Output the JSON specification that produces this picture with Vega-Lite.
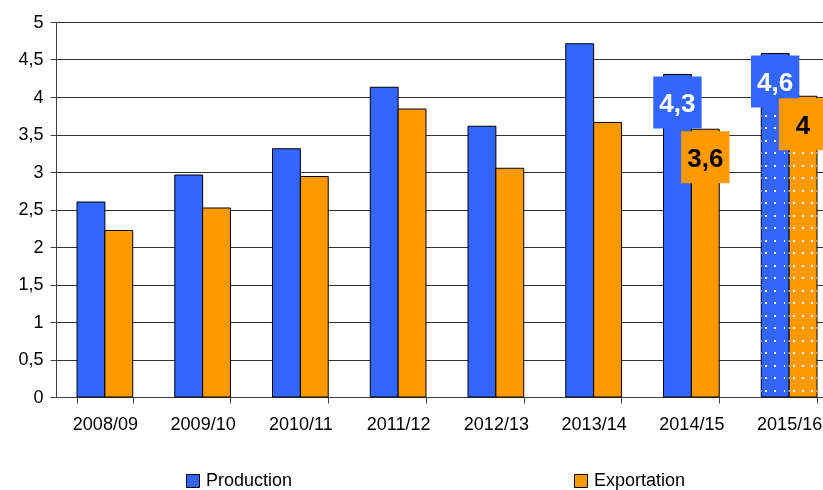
{
  "$schema": "https://vega.github.io/schema/vega-lite/v6.json",
  "width": 767,
  "height": 375,
  "autosize": {"type": "none"},
  "padding": {"left": 56, "top": 22, "right": 0, "bottom": 93},
  "background": "white",
  "config": {
    "view": {"stroke": null},
    "font": "Liberation Sans",
    "locale": {"number": {"decimal": ",", "thousands": ".", "grouping": [3], "currency": ["", " €"]}}
  },
  "data": {
    "values": [
      {"year": "2008/09", "series": "Production", "value": 2.60},
      {"year": "2008/09", "series": "Exportation", "value": 2.22},
      {"year": "2009/10", "series": "Production", "value": 2.96},
      {"year": "2009/10", "series": "Exportation", "value": 2.52},
      {"year": "2010/11", "series": "Production", "value": 3.31},
      {"year": "2010/11", "series": "Exportation", "value": 2.94},
      {"year": "2011/12", "series": "Production", "value": 4.13},
      {"year": "2011/12", "series": "Exportation", "value": 3.84},
      {"year": "2012/13", "series": "Production", "value": 3.61},
      {"year": "2012/13", "series": "Exportation", "value": 3.05},
      {"year": "2013/14", "series": "Production", "value": 4.71},
      {"year": "2013/14", "series": "Exportation", "value": 3.66},
      {"year": "2014/15", "series": "Production", "value": 4.30},
      {"year": "2014/15", "series": "Exportation", "value": 3.57},
      {"year": "2015/16", "series": "Production", "value": 4.58},
      {"year": "2015/16", "series": "Exportation", "value": 4.01}
    ]
  },
  "encoding": {
    "x": {
      "field": "year",
      "type": "nominal",
      "sort": null,
      "scale": {"range": [0, 782], "paddingInner": 0.43, "paddingOuter": 0.215},
      "axis": {
        "title": null,
        "labelAngle": 0,
        "labelFont": "Liberation Sans",
        "labelFontSize": 18,
        "labelColor": "black",
        "labelPadding": 12,
        "tickBand": "extent",
        "tickSize": 6,
        "tickColor": "#404040",
        "domainColor": "#404040",
        "grid": false
      }
    },
    "xOffset": {
      "field": "series",
      "type": "nominal",
      "sort": ["Production", "Exportation"],
      "scale": {"paddingInner": 0, "paddingOuter": 0}
    },
    "y": {
      "field": "value",
      "type": "quantitative",
      "scale": {"domain": [0, 5], "nice": false},
      "axis": {
        "title": null,
        "values": [0, 0.5, 1, 1.5, 2, 2.5, 3, 3.5, 4, 4.5, 5],
        "format": ".1~f",
        "labelFont": "Liberation Sans",
        "labelFontSize": 18,
        "labelColor": "black",
        "labelPadding": 7,
        "tickSize": 6,
        "tickColor": "#404040",
        "domainColor": "#404040",
        "gridColor": "#333333",
        "gridOpacity": 1
      }
    }
  },
  "layer": [
    {
      "mark": {"type": "bar", "stroke": "black", "strokeWidth": 1},
      "encoding": {
        "color": {
          "field": "series",
          "type": "nominal",
          "scale": {"domain": ["Production", "Exportation"], "range": ["#3366FF", "#FF9900"]},
          "legend": {
            "orient": "none",
            "legendX": 128,
            "legendY": 450,
            "direction": "horizontal",
            "columns": 2,
            "columnPadding": 279,
            "title": null,
            "padding": 0,
            "symbolType": "square",
            "symbolSize": 169,
            "symbolStrokeColor": "black",
            "symbolStrokeWidth": 1,
            "labelFont": "Liberation Sans",
            "labelFontSize": 18,
            "labelColor": "black",
            "labelOffset": 4
          }
        }
      }
    },
    {
      "transform": [{"filter": {"field": "year", "equal": "2015/16"}}],
      "mark": {
        "type": "bar",
        "strokeWidth": 0,
        "blend": "lighten",
        "fill": {
          "gradient": "linear", "x1": 0, "y1": 0, "x2": 0, "y2": 1,
          "stops": [
            {"offset": 0, "color": "black"},
            {"offset": 0.21427, "color": "black"}, {"offset": 0.21427, "color": "white"}, {"offset": 0.21907, "color": "white"}, {"offset": 0.21907, "color": "black"},
            {"offset": 0.24760, "color": "black"}, {"offset": 0.24760, "color": "white"}, {"offset": 0.25240, "color": "white"}, {"offset": 0.25240, "color": "black"},
            {"offset": 0.28093, "color": "black"}, {"offset": 0.28093, "color": "white"}, {"offset": 0.28573, "color": "white"}, {"offset": 0.28573, "color": "black"},
            {"offset": 0.31427, "color": "black"}, {"offset": 0.31427, "color": "white"}, {"offset": 0.31907, "color": "white"}, {"offset": 0.31907, "color": "black"},
            {"offset": 0.34760, "color": "black"}, {"offset": 0.34760, "color": "white"}, {"offset": 0.35240, "color": "white"}, {"offset": 0.35240, "color": "black"},
            {"offset": 0.38093, "color": "black"}, {"offset": 0.38093, "color": "white"}, {"offset": 0.38573, "color": "white"}, {"offset": 0.38573, "color": "black"},
            {"offset": 0.41427, "color": "black"}, {"offset": 0.41427, "color": "white"}, {"offset": 0.41907, "color": "white"}, {"offset": 0.41907, "color": "black"},
            {"offset": 0.44760, "color": "black"}, {"offset": 0.44760, "color": "white"}, {"offset": 0.45240, "color": "white"}, {"offset": 0.45240, "color": "black"},
            {"offset": 0.48093, "color": "black"}, {"offset": 0.48093, "color": "white"}, {"offset": 0.48573, "color": "white"}, {"offset": 0.48573, "color": "black"},
            {"offset": 0.51427, "color": "black"}, {"offset": 0.51427, "color": "white"}, {"offset": 0.51907, "color": "white"}, {"offset": 0.51907, "color": "black"},
            {"offset": 0.54760, "color": "black"}, {"offset": 0.54760, "color": "white"}, {"offset": 0.55240, "color": "white"}, {"offset": 0.55240, "color": "black"},
            {"offset": 0.58093, "color": "black"}, {"offset": 0.58093, "color": "white"}, {"offset": 0.58573, "color": "white"}, {"offset": 0.58573, "color": "black"},
            {"offset": 0.61427, "color": "black"}, {"offset": 0.61427, "color": "white"}, {"offset": 0.61907, "color": "white"}, {"offset": 0.61907, "color": "black"},
            {"offset": 0.64760, "color": "black"}, {"offset": 0.64760, "color": "white"}, {"offset": 0.65240, "color": "white"}, {"offset": 0.65240, "color": "black"},
            {"offset": 0.68093, "color": "black"}, {"offset": 0.68093, "color": "white"}, {"offset": 0.68573, "color": "white"}, {"offset": 0.68573, "color": "black"},
            {"offset": 0.71427, "color": "black"}, {"offset": 0.71427, "color": "white"}, {"offset": 0.71907, "color": "white"}, {"offset": 0.71907, "color": "black"},
            {"offset": 0.74760, "color": "black"}, {"offset": 0.74760, "color": "white"}, {"offset": 0.75240, "color": "white"}, {"offset": 0.75240, "color": "black"},
            {"offset": 0.78093, "color": "black"}, {"offset": 0.78093, "color": "white"}, {"offset": 0.78573, "color": "white"}, {"offset": 0.78573, "color": "black"},
            {"offset": 0.81427, "color": "black"}, {"offset": 0.81427, "color": "white"}, {"offset": 0.81907, "color": "white"}, {"offset": 0.81907, "color": "black"},
            {"offset": 0.84760, "color": "black"}, {"offset": 0.84760, "color": "white"}, {"offset": 0.85240, "color": "white"}, {"offset": 0.85240, "color": "black"},
            {"offset": 0.88093, "color": "black"}, {"offset": 0.88093, "color": "white"}, {"offset": 0.88573, "color": "white"}, {"offset": 0.88573, "color": "black"},
            {"offset": 0.91427, "color": "black"}, {"offset": 0.91427, "color": "white"}, {"offset": 0.91907, "color": "white"}, {"offset": 0.91907, "color": "black"},
            {"offset": 0.94760, "color": "black"}, {"offset": 0.94760, "color": "white"}, {"offset": 0.95240, "color": "white"}, {"offset": 0.95240, "color": "black"},
            {"offset": 0.98093, "color": "black"}, {"offset": 0.98093, "color": "white"}, {"offset": 0.98573, "color": "white"}, {"offset": 0.98573, "color": "black"},
            {"offset": 1, "color": "black"}
          ]
        }
      },
      "encoding": {
        "y": {"datum": 5, "type": "quantitative"},
        "y2": {"datum": 0}
      }
    },
    {
      "transform": [{"filter": {"field": "year", "equal": "2015/16"}}],
      "mark": {"type": "bar", "strokeWidth": 0, "blend": "darken"},
      "encoding": {
        "fill": {
          "condition": {
            "test": "datum.series === 'Production'",
            "value": {
              "gradient": "linear", "x1": 0, "y1": 0, "x2": 1, "y2": 0,
              "stops": [
                {"offset": 0, "color": "#3366FF"},
                {"offset": 0.1357, "color": "#3366FF"}, {"offset": 0.1357, "color": "white"}, {"offset": 0.2, "color": "white"}, {"offset": 0.2, "color": "#3366FF"},
                {"offset": 0.4679, "color": "#3366FF"}, {"offset": 0.4679, "color": "white"}, {"offset": 0.5321, "color": "white"}, {"offset": 0.5321, "color": "#3366FF"},
                {"offset": 0.8, "color": "#3366FF"}, {"offset": 0.8, "color": "white"}, {"offset": 0.8643, "color": "white"}, {"offset": 0.8643, "color": "#3366FF"},
                {"offset": 1, "color": "#3366FF"}
              ]
            }
          },
          "value": {
            "gradient": "linear", "x1": 0, "y1": 0, "x2": 1, "y2": 0,
            "stops": [
              {"offset": 0, "color": "#FF9900"},
              {"offset": 0.1357, "color": "#FF9900"}, {"offset": 0.1357, "color": "white"}, {"offset": 0.2, "color": "white"}, {"offset": 0.2, "color": "#FF9900"},
              {"offset": 0.4679, "color": "#FF9900"}, {"offset": 0.4679, "color": "white"}, {"offset": 0.5321, "color": "white"}, {"offset": 0.5321, "color": "#FF9900"},
              {"offset": 0.8, "color": "#FF9900"}, {"offset": 0.8, "color": "white"}, {"offset": 0.8643, "color": "white"}, {"offset": 0.8643, "color": "#FF9900"},
              {"offset": 1, "color": "#FF9900"}
            ]
          }
        }
      }
    },
    {
      "transform": [{"filter": {"field": "year", "oneOf": ["2014/15", "2015/16"]}}],
      "mark": {
        "type": "point",
        "shape": "M-0.93,-1H0.93V1H-0.93Z",
        "size": 2704,
        "filled": true,
        "opacity": 1,
        "strokeWidth": 0,
        "yOffset": 28
      },
      "encoding": {
        "color": {
          "condition": {"test": "datum.series === 'Production'", "value": "#3366FF"},
          "value": "#FF9900"
        }
      }
    },
    {
      "transform": [{"filter": {"field": "year", "oneOf": ["2014/15", "2015/16"]}}],
      "mark": {
        "type": "text",
        "font": "Liberation Sans",
        "fontWeight": "bold",
        "fontSize": 26,
        "baseline": "alphabetic",
        "align": "center",
        "dy": 37.5
      },
      "encoding": {
        "text": {"field": "value", "type": "quantitative", "format": ".1~f"},
        "color": {
          "condition": {"test": "datum.series === 'Production'", "value": "white"},
          "value": "black"
        }
      }
    }
  ]
}
